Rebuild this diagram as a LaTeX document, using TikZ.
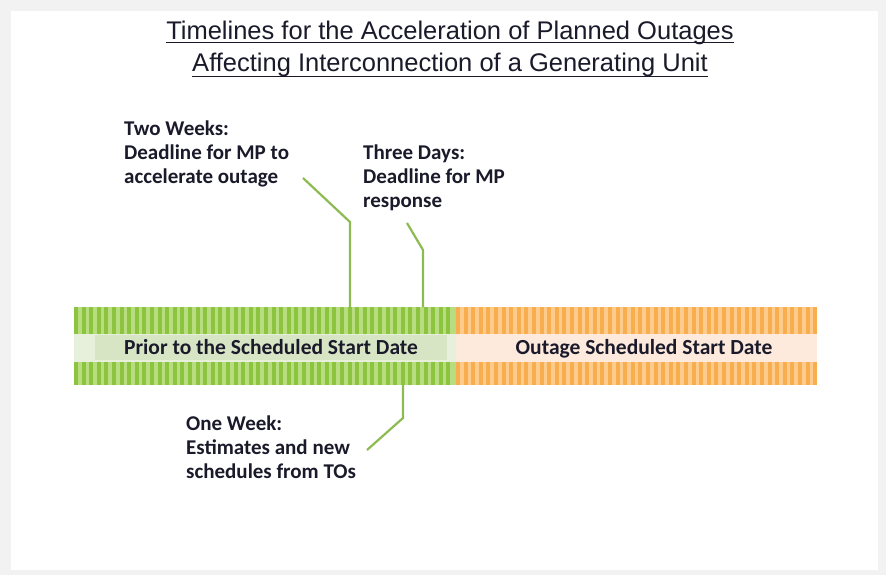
\documentclass[tikz,border=0pt]{standalone}
\usepackage{fontspec}
\setmainfont{Carlito}
\newfontfamily\titlefont{Liberation Sans}
\usepackage{tikz}
\usetikzlibrary{calc}

\definecolor{frame}{HTML}{F2F2F2}
\definecolor{inkdk}{HTML}{1A1A2A}
\definecolor{greendk}{HTML}{8CC43F}
\definecolor{greenlt}{HTML}{B8DC80}
\definecolor{greenpale}{HTML}{E6F0DA}
\definecolor{greenbox}{HTML}{D8E5C5}
\definecolor{orangedk}{HTML}{F8AE4E}
\definecolor{orangelt}{HTML}{FDCB8C}
\definecolor{orangepale}{HTML}{FDEADC}
\definecolor{leadgreen}{HTML}{8DBB52}

\begin{document}
\begin{tikzpicture}[x=1pt,y=-1pt,
    note/.style={anchor=base west, inner sep=0pt, align=left, text=inkdk,
        font=\bfseries\fontsize{21}{24}\selectfont},
    barlabel/.style={inner sep=0pt, anchor=base, text=inkdk, font=\bfseries\fontsize{21.5}{24}\selectfont},
    heading/.style={inner sep=0pt, anchor=base, text=inkdk, font=\titlefont\fontsize{25.5}{32}\selectfont},
    leader/.style={draw=leadgreen, line width=2.2pt}]
    %%Background
    \fill[frame] (0,0) rectangle (886,575);
    \fill[white] (11,11) rectangle (878,570);

    %% Title
    \node[heading] (titleA) at (450,39.3) {Timelines for the Acceleration of Planned Outages};
    \node[heading] (titleB) at (450,71.7) {Affecting Interconnection of a Generating Unit};
    \draw[inkdk, line width=1.6pt] ([yshift=-3.2pt]titleA.base west) -- ([yshift=-3.2pt]titleA.base east);
    \draw[inkdk, line width=1.6pt] ([yshift=-4.8pt]titleB.base west) -- ([yshift=-4.8pt]titleB.base east);

    %% Bar
    \fill[greenlt] (74,307) rectangle (456,385);
    \fill[orangelt] (456,307) rectangle (817,385);
    \foreach \x in {74,81.6,...,452}
    {
    \fill[greendk] (\x,307) rectangle (\x+4,385);
    }
    \foreach \x in {456,463.6,...,814}
    {
    \fill[orangedk] (\x,307) rectangle (\x+4,385);
    }
    \fill[greenpale] (74,334) rectangle (456,362);
    \fill[orangepale] (456,334) rectangle (817,362);
    \fill[greenbox] (95,335) rectangle (447,360);
    \node[barlabel] (prior) at (271,354) {Prior to the Scheduled Start Date};
    \node[barlabel] (outage) at (644,354) {Outage Scheduled Start Date};

    %% Notes (base = last line)
    \node[note] (twoweeks) at (124,183) {Two Weeks:\\Deadline for MP to\\accelerate outage};
    \node[note] (threedays) at (363,207) {Three Days:\\Deadline for MP\\response};
    \node[note] (oneweek) at (186,478) {One Week:\\Estimates and new\\schedules from TOs};

    %% Leaders
    \coordinate (twoA) at (303,178);
    \coordinate (twoB) at (350,222);
    \coordinate (twoC) at (350,307);
    \coordinate (threeA) at (407,223);
    \coordinate (threeB) at (423,250);
    \coordinate (threeC) at (423,307);
    \coordinate (oneA) at (403,385);
    \coordinate (oneB) at (403,418);
    \coordinate (oneC) at (367,450);
    \draw[leader] (twoA) -- (twoB) -- (twoC);
    \draw[leader] (threeA) -- (threeB) -- (threeC);
    \draw[leader] (oneA) -- (oneB) -- (oneC);

\end{tikzpicture}
\end{document}
